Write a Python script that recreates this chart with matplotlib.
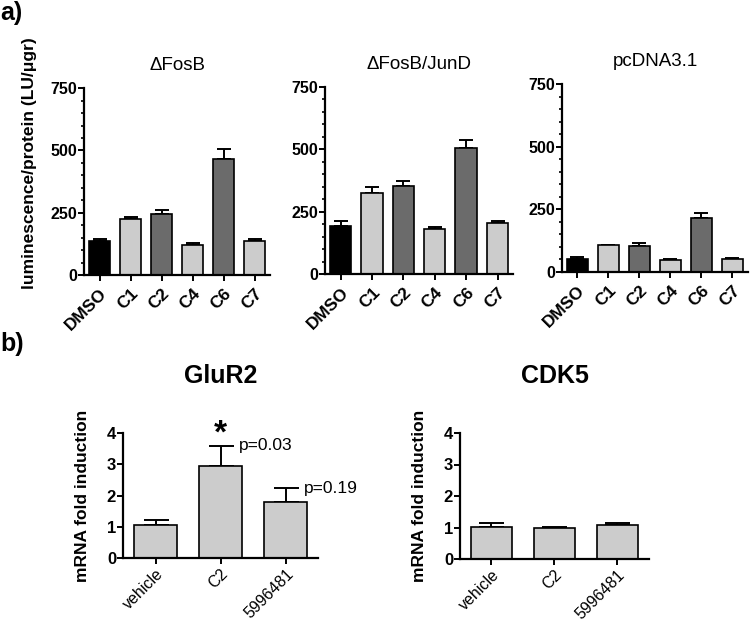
import matplotlib
matplotlib.use('Agg')
import matplotlib.pyplot as plt
from matplotlib.ticker import MultipleLocator

plt.rcParams['font.family'] = ['Liberation Sans', 'DejaVu Sans']
plt.rcParams['font.weight'] = 'bold'
plt.rcParams['axes.labelweight'] = 'bold'
plt.rcParams['axes.titleweight'] = 'bold'

# panel a data
lum_cats = ['DMSO', 'C1', 'C2', 'C4', 'C6', 'C7']
fosb = [137, 224, 244, 122, 466, 137]
fosb_err = [8, 10, 17, 5, 38, 8]
fosb_jund = [194, 324, 354, 180, 505, 204]
fosb_jund_err = [17, 24, 17, 9, 32, 10]
pcdna = [53, 107, 104, 47, 215, 51]
pcdna_err = [5, 1, 13, 6, 19, 5]
lum_titles = ['\u0394FosB', '\u0394FosB/JunD', 'pcDNA3.1']

# panel b data
mrna_cats = ['vehicle', 'C2', '5996481']
glur2 = [1.05, 2.93, 1.80]
glur2_err = [0.18, 0.67, 0.44]
cdk5 = [1.03, 0.99, 1.07]
cdk5_err = [0.12, 0.02, 0.08]
glur2_p = ['', 'p=0.03', 'p=0.19']

bar_colors = ['#000000', '#cccccc', '#6b6b6b', '#cccccc', '#6b6b6b', '#cccccc']
fig = plt.figure(figsize=(7.5, 6.25), dpi=100)


def style_axis(ax):
    ax.spines['top'].set_visible(False)
    ax.spines['right'].set_visible(False)
    ax.spines['left'].set_linewidth(1.6)
    ax.spines['bottom'].set_linewidth(1.6)
    ax.tick_params(direction='out', width=1.4, length=4)
    ax.tick_params(which='minor', direction='out', width=1.2, length=2.5)


def lum_panel(rect, vals, errs, title, ylabel=None):
    ax = fig.add_axes(rect)
    x = range(len(vals))
    ax.bar(x, vals, width=0.68, color=bar_colors, edgecolor='black', linewidth=1.2, zorder=2)
    ax.errorbar(x, vals, yerr=[[0] * len(errs), errs], fmt='none', ecolor='black',
                elinewidth=1.4, capsize=5, capthick=1.4, zorder=1)
    ax.set_xlim(-0.5, 5.5)
    ax.set_ylim(0, 750)
    ax.set_yticks([0, 250, 500, 750])
    ax.yaxis.set_minor_locator(MultipleLocator(50))
    ax.set_xticks(list(x))
    ax.set_xticklabels(lum_cats, rotation=45, ha='right', rotation_mode='anchor',
                       fontsize=12.5)
    ax.tick_params(axis='y', labelsize=11.5, pad=1)
    style_axis(ax)
    ax.set_title(title, fontsize=13.5, fontweight='normal', pad=13)
    if ylabel:
        ax.set_ylabel(ylabel, fontsize=12.5)
        ax.yaxis.set_label_coords(-0.255, 0.6)
    return ax


def mrna_panel(rect, vals, errs, title, notes=None):
    ax = fig.add_axes(rect)
    x = range(len(vals))
    ax.bar(x, vals, width=0.65, color='#cccccc', edgecolor='black', linewidth=1.2, zorder=2)
    ax.errorbar(x, vals, yerr=[[0] * len(errs), errs], fmt='none', ecolor='black',
                elinewidth=1.4, capsize=9, capthick=1.4, zorder=1)
    ax.set_xlim(-0.5, 2.5)
    ax.set_ylim(0, 4)
    ax.set_yticks([0, 1, 2, 3, 4])
    ax.set_xticks(list(x))
    ax.set_xticklabels(mrna_cats, rotation=45, ha='right', rotation_mode='anchor',
                       fontsize=11.5, fontweight='normal')
    ax.tick_params(axis='x', pad=2)
    ax.tick_params(axis='y', labelsize=12, pad=1)
    style_axis(ax)
    ax.set_title(title, fontsize=18, pad=36)
    ax.set_ylabel('mRNA fold induction', fontsize=12.5, labelpad=12)
    if notes:
        for i, note in enumerate(notes):
            if note:
                ax.text(i + 0.28, vals[i] + errs[i], note, fontsize=12.5,
                        fontweight='normal', va='center', ha='left', clip_on=False)
    return ax


lum_panel([0.112, 0.56, 0.248, 0.299], fosb, fosb_err, lum_titles[0],
          ylabel='luminescence/protein (LU/\u03bcgr)')
lum_panel([0.4333, 0.5616, 0.251, 0.2992], fosb_jund, fosb_jund_err, lum_titles[1])
lum_panel([0.7493, 0.5648, 0.248, 0.3008], pcdna, pcdna_err, lum_titles[2])

ax_g = mrna_panel([0.164, 0.1072, 0.26, 0.2], glur2, glur2_err, 'GluR2', glur2_p)
ax_g.text(1, glur2[1] + glur2_err[1] - 0.12, '*', fontsize=24,
          ha='center', va='bottom', clip_on=False)
mrna_panel([0.6133, 0.1056, 0.252, 0.2016], cdk5, cdk5_err, 'CDK5')

fig.text(0.0, 0.998, 'a)', fontsize=18, va='top', ha='left')
fig.text(0.0, 0.468, 'b)', fontsize=18, va='top', ha='left')

fig.savefig('out.png', dpi=100)
